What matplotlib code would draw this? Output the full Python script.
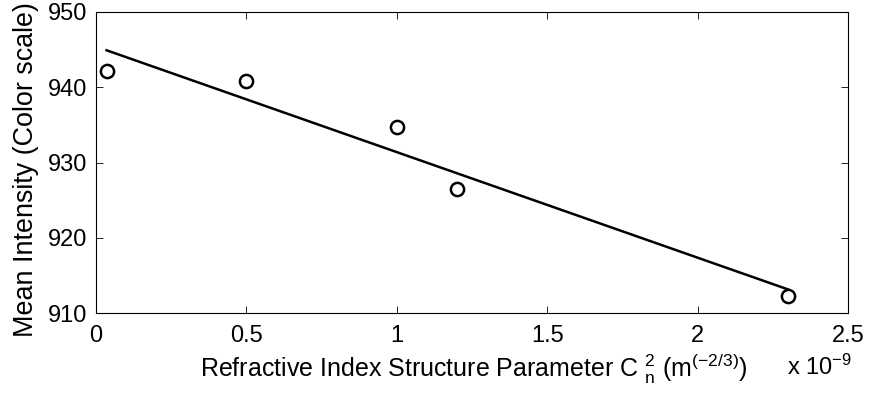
import numpy as np
import matplotlib
matplotlib.use("Agg")
import matplotlib.pyplot as plt
from matplotlib.ticker import FuncFormatter

plt.rcParams['font.family'] = ['Liberation Sans', 'DejaVu Sans']
plt.rcParams['mathtext.fontset'] = 'custom'
plt.rcParams['mathtext.rm'] = 'Liberation Sans'
plt.rcParams['mathtext.it'] = 'Liberation Sans'

# refractive index structure parameter Cn^2 (m^-2/3), in units of 1e-9
cn2 = [0.035, 0.5, 1.0, 1.2, 2.3]
# mean intensity (color scale)
intensity = [942.1, 940.8, 934.7, 926.5, 912.3]

x = np.array(cn2) * 1e-9
y = np.array(intensity)

# least squares line through the points
p = np.polyfit(x, y, 1)
xfit = np.array([x.min(), x.max()])
yfit = np.polyval(p, xfit)

fig = plt.figure(figsize=(8.69, 3.94), dpi=100)
ax = fig.add_axes([96/869, 1-313/394, (848-96)/869, (313-12)/394])

ax.plot(xfit, yfit, '-k', lw=1.8)
ax.plot(x, y, 'o', mfc='none', mec='k', ms=9.5, mew=1.8)

ax.set_xlim(0, 2.5e-9)
ax.set_ylim(910, 950)
ax.set_xticks(np.arange(0, 2.51, 0.5) * 1e-9)
ax.set_yticks([910, 920, 930, 940, 950])
ax.xaxis.set_major_formatter(FuncFormatter(lambda v, pos: '%g' % round(v / 1e-9, 3)))

ax.tick_params(direction='in', top=True, right=True, length=5, width=0.6,
               labelsize=17)
ax.tick_params(axis='x', pad=9)
ax.tick_params(axis='y', pad=6)
for s in ax.spines.values():
    s.set_linewidth(0.8)

ax.set_xlabel('Refractive Index Structure Parameter C $^{2}_{n}$ (m$^{(-2/3)}$)',
              fontsize=18)
ax.xaxis.set_label_coords((474-96)/752, (313-377)/301)
ax.xaxis.label.set_va('baseline')
ax.set_ylabel('Mean Intensity (Color scale)', fontsize=19.4)
ax.yaxis.set_label_coords((26-96)/752, (313-170)/301)
ax.yaxis.label.set_va('center')

fig.text(787/869, 1-375/394, 'x 10$^{-9}$', fontsize=17, ha='left', va='baseline')

fig.savefig('out.png', dpi=100)
